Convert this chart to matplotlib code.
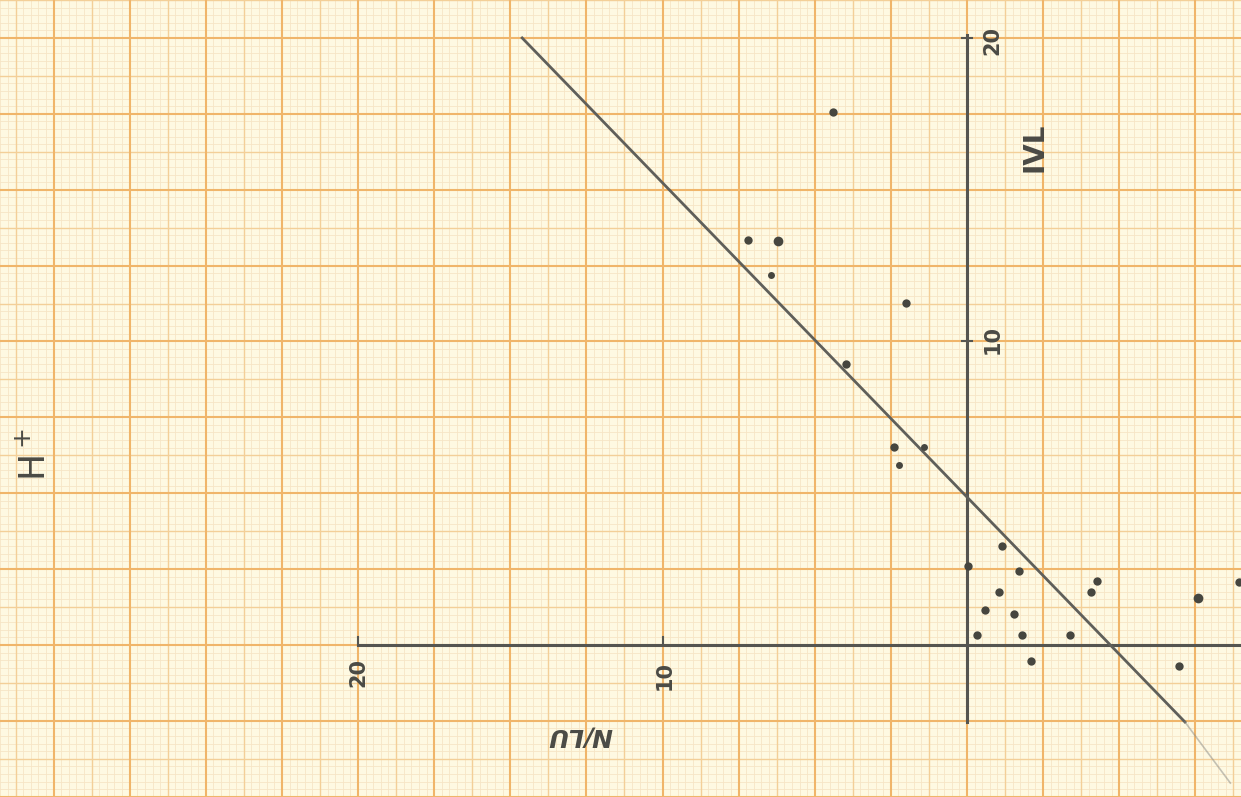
import numpy as np
import matplotlib
matplotlib.use("Agg")
import matplotlib.pyplot as plt

# measured points (x axis runs right-to-left, as on the sheet)
x_pts = [4.40, 7.19, 6.21, 6.44, 2.00, 3.97, 2.40, 1.41, 2.23,
         -1.16, -0.02, -1.72, -4.28, -4.06, -1.05, -8.92, -7.58,
         -0.59, -1.54, -0.32, -1.80, -3.37, -2.10, -6.96]
y_pts = [17.56, 13.34, 13.31, 12.19, 11.27, 9.26, 6.52, 6.52, 5.93,
         3.27, 2.60, 2.44, 2.10, 1.76, 1.75, 2.07, 1.54,
         1.16, 1.02, 0.32, 0.34, 0.34, -0.53, -0.68]
dot_sizes = [6, 6, 7, 5, 6, 6, 6, 5, 5,
             6, 6, 6, 6, 6, 6, 6, 7,
             6, 6, 6, 6, 6, 6, 6]

# hand drawn fit line
line_x = [14.61, -7.16]
line_y = [20.0, -2.54]
tail_x = [-7.16, -8.65]
tail_y = [-2.54, -4.55]

x_ticks = [20, 10]
y_ticks = [20, 10]

paper = "#fef9e2"
ink = "#555550"

fig = plt.figure(figsize=(12.41, 7.97), dpi=100)
ax = fig.add_axes([0, 0, 1, 1])
ax.set_facecolor(paper)
fig.patch.set_facecolor(paper)
ax.set_xlim(31.76, -9.0)
ax.set_ylim(-5.01, 21.25)

# graph paper: minor 0.25, medium 1.25, major 2.5
gx = np.arange(-10, 32.01, 0.25)
gy = np.arange(-6, 22.01, 0.25)
for v in gx:
    k = round(v / 0.25)
    if k % 10 == 0:
        ax.axvline(v, color="#f0b56a", lw=1.5, zorder=3)
    elif k % 5 == 0:
        ax.axvline(v, color="#f3cf98", lw=1.0, zorder=2)
    else:
        ax.axvline(v, color="#f6e5c6", lw=0.6, zorder=1)
for v in gy:
    k = round(v / 0.25)
    if k % 10 == 0:
        ax.axhline(v, color="#f0b56a", lw=1.5, zorder=3)
    elif k % 5 == 0:
        ax.axhline(v, color="#f3cf98", lw=1.0, zorder=2)
    else:
        ax.axhline(v, color="#f6e5c6", lw=0.6, zorder=1)

# axes drawn by hand
ax.plot([20, -9.0], [0, 0], color=ink, lw=2.2, zorder=5)
ax.plot([0, 0], [-2.55, 20.1], color=ink, lw=2.2, zorder=5)
for t in x_ticks:
    ax.plot([t, t], [0, 0.25], color=ink, lw=1.5, zorder=5)
for t in y_ticks:
    ax.plot([0.15, -0.15], [t, t], color=ink, lw=1.5, zorder=5)

ax.plot(line_x, line_y, color="#5f5f5a", lw=2.0, zorder=6)
ax.plot(tail_x, tail_y, color="#8a8a85", lw=1.2, alpha=0.5, zorder=6)

for x, y, s in zip(x_pts, y_pts, dot_sizes):
    ax.plot(x, y, "o", color="#46463f", ms=s, mec="none", zorder=7)

tk = dict(color="#4a4a45", fontsize=15, fontweight="bold", rotation=90,
          ha="center", va="center", zorder=8)
ax.text(-0.82, 19.93, "20", **tk)
ax.text(-0.85, 10.05, "10", **tk)
ax.text(20.0, -0.9, "20", **tk)
ax.text(9.92, -1.0, "10", **tk)

ax.text(-2.23, 16.4, "IVL", color="#4a4a45", fontsize=20, fontweight="bold",
        rotation=90, ha="center", va="center", zorder=8)
ax.text(12.71, -2.97, "N/LU", color="#4a4a45", fontsize=18, style="italic",
        fontweight="bold", rotation=180, ha="center", va="center", zorder=8)
ax.text(30.6, 6.26, "H$^+$", color="#4a4a45", fontsize=26, rotation=90,
        ha="center", va="center", zorder=8)

ax.set_xticks([])
ax.set_yticks([])
for s in ax.spines.values():
    s.set_visible(False)

fig.savefig("out.png", dpi=100, facecolor=paper)
